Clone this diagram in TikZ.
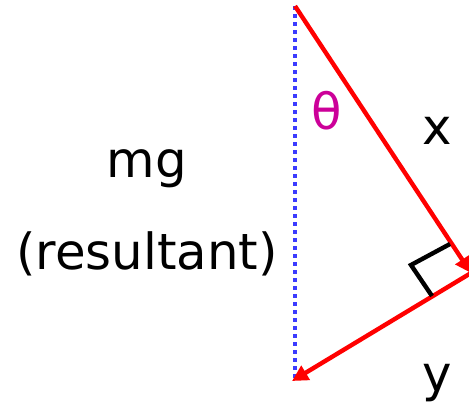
\documentclass[tikz,border=0pt]{standalone}
\usepackage{fontspec}
\setmainfont{DejaVu Sans}
\usetikzlibrary{arrows.meta}
\definecolor{vred}{HTML}{FF0000}
\definecolor{vblue}{HTML}{3B3BFF}
\definecolor{vmag}{HTML}{CC0099}
\tikzset{
  vec/.style={draw=vred,line width=4.4bp,-{Triangle[length=16bp,width=16bp]}},
  dotline/.style={draw=vblue,line width=4.8bp,dash pattern=on 4bp off 4bp},
  rightmark/.style={draw=black,line width=4.4bp},
  lbl/.style={font=\fontsize{50}{60}\selectfont,inner sep=0pt}
}
\begin{document}
\begin{tikzpicture}[x=1bp,y=-1bp]
\clip (0,0) rectangle (469,405);
\useasboundingbox (0,0) rectangle (469,405);
\coordinate (top) at (295,6);
\coordinate (bot) at (295,378);
\coordinate (rgt) at (471,273);
\coordinate (end) at (292,381);
\coordinate (m1) at (450,244);
\coordinate (m2) at (411,265);
\coordinate (m3) at (432,296);
\draw[dotline] (top) -- (bot);
\draw[vec] (top) -- (rgt);
\draw[vec] (rgt) -- (end);
\draw[rightmark] (m1) -- (m2) -- (m3);
\node[lbl,text=vmag] (theta) at (327,111) {θ};
\node[lbl] (x) at (437,131) {x};
\node[lbl] (y) at (437,383) {y};
\node[lbl] (mg) at (147,169) {mg};
\node[lbl] (res) at (147,254) {(resultant)};
\end{tikzpicture}
\end{document}
